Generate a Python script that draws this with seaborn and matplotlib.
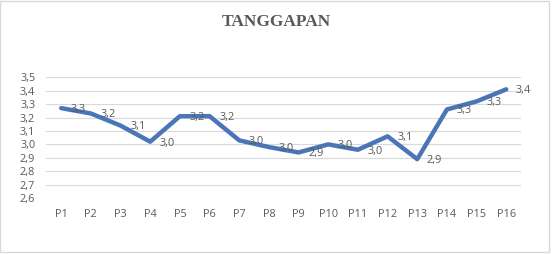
import matplotlib
matplotlib.use("Agg")
import matplotlib.pyplot as plt
import seaborn as sns
import pandas as pd
from matplotlib.patches import Rectangle

categories = ["P1", "P2", "P3", "P4", "P5", "P6", "P7", "P8",
              "P9", "P10", "P11", "P12", "P13", "P14", "P15", "P16"]
values = [3.27, 3.23, 3.14, 3.02, 3.21, 3.21, 3.03, 2.98,
          2.94, 3.00, 2.96, 3.06, 2.89, 3.26, 3.32, 3.41]
yticks = [2.6, 2.7, 2.8, 2.9, 3.0, 3.1, 3.2, 3.3, 3.4, 3.5]
title = "TANGGAPAN"

sns.set_theme(style="white")
plt.rcParams['font.family'] = ['Open Sans', 'DejaVu Sans']

df = pd.DataFrame({"cat": categories, "val": values})

fig = plt.figure(figsize=(5.52, 2.54), dpi=100)
ax = fig.add_axes([0.084, 0.220, 0.860, 0.476])

gray = "#595959"
for y in yticks:
    ax.axhline(y, color="#D9D9D9", lw=0.8, zorder=0)

sns.lineplot(data=df, x="cat", y="val", ax=ax, color="#4A76B8", lw=3.2,
             sort=False, zorder=3)

ax.set_xlim(-0.5, len(categories) - 0.5)
ax.set_ylim(2.6, 3.5)
ax.set_yticks(yticks)
ax.set_yticklabels([f"{v:.1f}".replace(".", ",") for v in yticks],
                   fontsize=7.8, color=gray)
ax.set_xticks(range(len(categories)))
ax.set_xticklabels(categories, fontsize=7.8, color=gray)
ax.tick_params(axis="both", length=0)
ax.tick_params(axis="y", pad=8)
ax.tick_params(axis="x", pad=8)
ax.set_xlabel("")
ax.set_ylabel("")
for s in ax.spines.values():
    s.set_visible(False)

for i, v in enumerate(values):
    ax.annotate(f"{v:.1f}".replace(".", ","), (i, v), xytext=(7, -1),
                textcoords="offset points", fontsize=7.8, color=gray,
                ha="left", va="center", zorder=4)

fig.text(0.5, 0.915, title, ha="center", va="center", fontsize=12.5,
         fontweight="bold", color=gray, family="Liberation Serif")

fig.patches.append(Rectangle((0.0, 0.008), 0.995, 0.99, transform=fig.transFigure,
                             fill=False, edgecolor="#D9D9D9", lw=1))

fig.savefig("out.png", dpi=100)
